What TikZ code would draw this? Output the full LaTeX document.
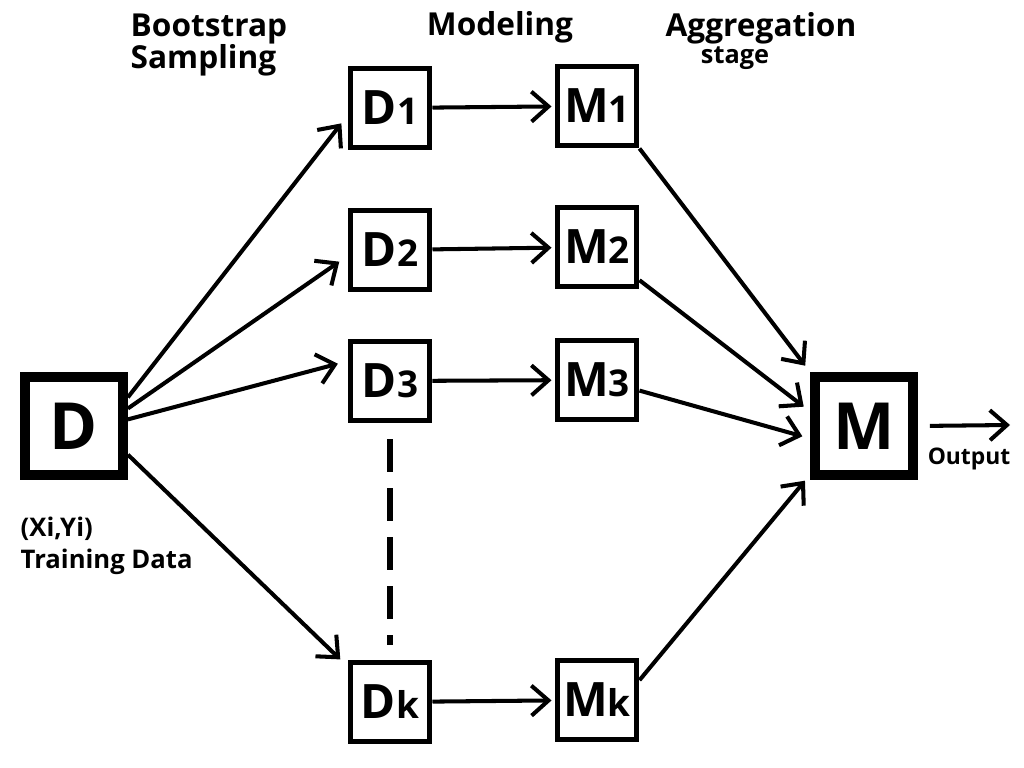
\documentclass[tikz,border=0pt]{standalone}
\usepackage{fontspec}
\setmainfont{Open Sans}
\usepackage{tikz}
\usetikzlibrary{arrows.meta,positioning,calc}

\begin{document}
\begin{tikzpicture}[every node/.style={font=\bfseries},
                    bigbox/.style={draw, line width=2.8pt, minimum size=9.8mm,
                                   inner sep=0pt, font=\bfseries\fontsize{18.5}{18.5}\selectfont},
                    smallbox/.style={draw, line width=1.7pt, minimum size=7.9mm,
                                     inner sep=0pt, font=\bfseries\fontsize{13.5}{13.5}\selectfont},
                    arr/.style={line width=1.15pt, -{Straight Barb[length=1.7mm,width=3mm]}},
                    title/.style={font=\bfseries\fontsize{9}{9.3}\selectfont}]
    \useasboundingbox (0,0) rectangle (10.24,-7.68);
    % headings
    \node[title, align=left, anchor=north west, inner sep=0pt] (boot) at (1.30,-0.13) {Bootstrap\\Sampling};
    \node[title, anchor=base] (model) at (5.00,-0.35) {Modeling};
    \node[title, anchor=base] (aggr) at (7.61,-0.37) {Aggregation};
    \node[anchor=base, font=\bfseries\fontsize{7.2}{7.2}\selectfont] (stage) at (7.35,-0.63) {stage};
    % boxes
    \node[bigbox] (D) at (0.74,-4.26) {D};
    \node[bigbox] (M) at (8.64,-4.26) {M};
    \node[smallbox] (D1) at (3.90,-1.08) {D{\fontsize{10.5}{10.5}\selectfont 1}};
    \node[smallbox] (D2) at (3.90,-2.50) {D{\fontsize{10.5}{10.5}\selectfont 2}};
    \node[smallbox] (D3) at (3.90,-3.81) {D{\fontsize{10.5}{10.5}\selectfont 3}};
    \node[smallbox] (Dk) at (3.90,-7.02) {D{\fontsize{10.5}{10.5}\selectfont k}};
    \node[smallbox] (M1) at (5.97,-1.06) {M{\fontsize{10.5}{10.5}\selectfont 1}};
    \node[smallbox] (M2) at (5.97,-2.47) {M{\fontsize{10.5}{10.5}\selectfont 2}};
    \node[smallbox] (M3) at (5.97,-3.80) {M{\fontsize{10.5}{10.5}\selectfont 3}};
    \node[smallbox] (Mk) at (5.97,-7.00) {M{\fontsize{10.5}{10.5}\selectfont k}};
    % data labels
    \node[anchor=base west, inner sep=0pt, font=\bfseries\fontsize{7.3}{7.3}\selectfont] (xy) at (0.20,-5.36) {(Xi,Yi)};
    \node[anchor=base west, inner sep=0pt, font=\bfseries\fontsize{7.3}{7.3}\selectfont] (train) at (0.20,-5.68) {Training Data};
    % bootstrap arrows
    \draw[arr, shorten >=1mm] (D.28) -- (D1.190);
    \draw[arr, shorten >=1mm] (D.18) -- (D2.188);
    \draw[arr, shorten >=1mm] (D.7) -- (D3.155);
    \draw[arr, shorten >=1mm] (D.-28) -- (Dk.140);
    \draw[line width=1.8pt, dash pattern=on 3.3mm off 1.6mm, shorten <=1.6mm, shorten >=1.5mm] (D3) -- (Dk);
    % modeling arrows
    \draw[arr, shorten >=0.3mm] (D1) -- (M1);
    \draw[arr, shorten >=0.3mm] (D2) -- (M2);
    \draw[arr, shorten >=0.3mm] (D3) -- (M3);
    \draw[arr, shorten >=0.3mm] (Dk) -- (Mk);
    % aggregation arrows
    \draw[arr, shorten >=0.8mm] (M1.south east) -- (M.north west);
    \draw[arr, shorten >=0.8mm] (M2.-38) -- (M.165);
    \draw[arr, shorten >=0.8mm] (M3.-14) -- (M.193);
    \draw[arr, shorten >=0.8mm] (Mk.25) -- (M.222);
    % output
    \coordinate (out) at (10.10,-4.25);
    \draw[arr, shorten <=1.2mm] (M.east) -- (out);
    \node[anchor=base, font=\bfseries\fontsize{6.5}{6.5}\selectfont] (outlbl) at (9.69,-4.64) {Output};
\end{tikzpicture}
\end{document}
